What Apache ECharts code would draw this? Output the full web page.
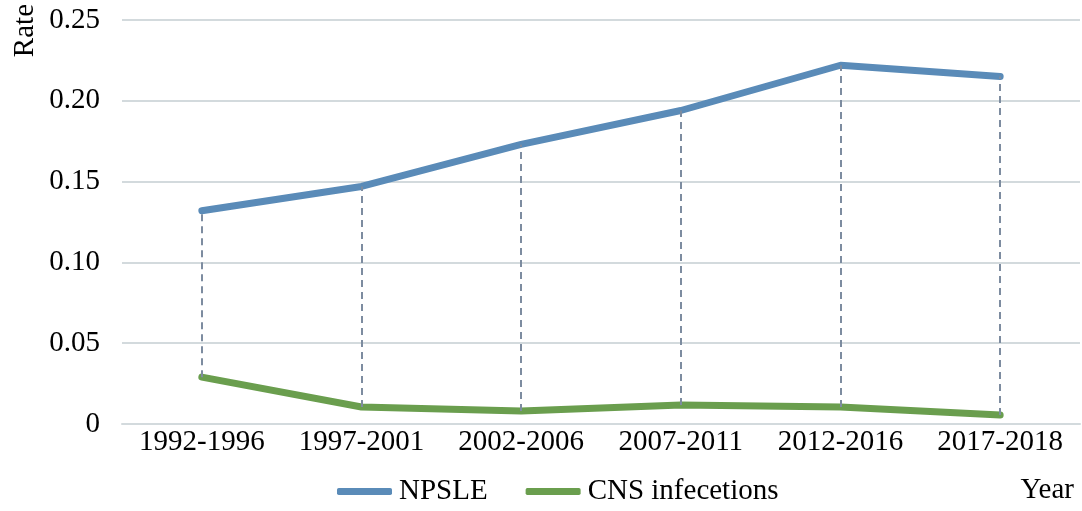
<!DOCTYPE html>
<html>
<head>
<meta charset="utf-8">
<script src="https://cdn.jsdelivr.net/npm/echarts@6/dist/echarts.min.js"></script>
<style>
  html, body { margin: 0; padding: 0; background: #fff; }
  #chart { width: 1082px; height: 511px; }
</style>
</head>
<body>
<div id="chart"></div>
<script>
var years = ['1992-1996', '1997-2001', '2002-2006', '2007-2011', '2012-2016', '2017-2018'];
var npsle = [0.132, 0.147, 0.173, 0.194, 0.222, 0.215];
var cns = [0.029, 0.0105, 0.008, 0.0118, 0.0105, 0.0055];

var font = '"Liberation Serif", "Times New Roman", serif';

// dashed drop lines between the two series at each year
var drops = years.map(function (y, i) {
    return [{ coord: [i, cns[i]] }, { coord: [i, npsle[i]] }];
});

var myChart = echarts.init(document.getElementById('chart'));
var option = {
    animation: false,
    textStyle: { fontFamily: font, color: '#000' },
    grid: { left: 122, right: 2, top: 20, bottom: 87 },
    graphic: [{
        type: 'text',
        left: 11,
        top: 4,
        rotation: Math.PI / 2,
        style: { text: 'Rate', font: '29px ' + font, fill: '#000' }
    }],
    legend: {
        bottom: 0,
        left: 332,
        itemWidth: 55,
        itemHeight: 7,
        itemGap: 38,
        icon: 'roundRect',
        textStyle: { fontFamily: font, fontSize: 29, color: '#000', padding: [0, 0, 0, 2] },
        data: ['NPSLE', 'CNS infecetions']
    },
    xAxis: {
        type: 'category',
        data: years,
        name: 'Year',
        nameLocation: 'end',
        nameGap: 0,
        nameTextStyle: { fontFamily: font, fontSize: 29, color: '#000', align: 'right', verticalAlign: 'top', padding: [52, 6, 0, 0] },
        axisLine: { lineStyle: { color: '#d3dadd', width: 2 } },
        axisTick: { show: false },
        axisLabel: { fontFamily: font, fontSize: 29, color: '#000', margin: 4, interval: 0 }
    },
    yAxis: {
        type: 'value',
        min: 0,
        max: 0.25,
        interval: 0.05,
        axisLine: { show: false },
        axisTick: { show: false },
        splitLine: { lineStyle: { color: '#d3dadd', width: 2 } },
        axisLabel: {
            fontFamily: font, fontSize: 29, color: '#000', margin: 22,
            formatter: function (v) { return v === 0 ? '0' : v.toFixed(2); }
        }
    },
    series: [
        {
            name: 'NPSLE',
            type: 'line',
            data: npsle,
            symbol: 'none',
            lineStyle: { color: '#5a8bb8', width: 7, cap: 'round' },
            itemStyle: { color: '#5a8bb8' },
            markLine: {
                silent: true,
                symbol: 'none',
                label: { show: false },
                lineStyle: { color: '#7d8ca0', type: [7, 5], width: 2 },
                data: drops
            }
        },
        {
            name: 'CNS infecetions',
            type: 'line',
            data: cns,
            symbol: 'none',
            lineStyle: { color: '#6a9e4e', width: 7, cap: 'round' },
            itemStyle: { color: '#6a9e4e' }
        }
    ]
};
myChart.setOption(option);
</script>
</body>
</html>
